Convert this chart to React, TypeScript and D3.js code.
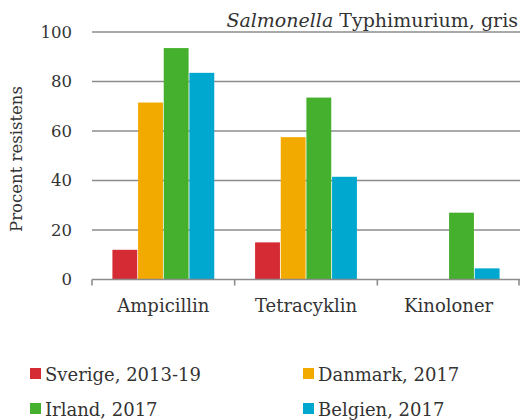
import * as d3 from "d3";

const categories = ["Ampicillin", "Tetracyklin", "Kinoloner"];
const seriesNames = ["Sverige, 2013-19", "Danmark, 2017", "Irland, 2017", "Belgien, 2017"];
const seriesColors = ["#d52b35", "#f2a900", "#45b02d", "#00a8cf"];
const sverige = [12, 15, 0];
const danmark = [71.5, 57.5, 0];
const irland = [93.5, 73.5, 27];
const belgien = [83.5, 41.5, 4.5];
const yTicks = [0, 20, 40, 60, 80, 100];

const seriesValues = [sverige, danmark, irland, belgien];

const W = 520;
const H = 420;
const margin = { top: 32, right: 0, bottom: 140, left: 92 };
const font = "'DejaVu Serif', Georgia, serif";
const textColor = "#333";

export default function App() {
  const innerW = W - margin.left - margin.right;
  const innerH = 420 - margin.top - margin.bottom - 0.5;

  const x = d3.scaleBand().domain(categories).range([0, innerW]).paddingInner(0).paddingOuter(0);
  const x1 = d3
    .scaleBand()
    .domain(seriesNames)
    .range([0, x.bandwidth()])
    .paddingOuter(0.78)
    .paddingInner(0);
  const y = d3.scaleLinear().domain([0, 100]).range([innerH, 0]);

  return (
    <svg
      width={W}
      height={H}
      style={{ position: "absolute", left: 0, top: 0, fontFamily: font }}
    >
      <g transform={`translate(${margin.left},${margin.top})`}>
        {yTicks.map((t) => (
          <g key={t}>
            {t > 0 && (
              <line x1={0} x2={innerW} y1={y(t)} y2={y(t)} stroke="#8c8c8c" strokeWidth={1.6} />
            )}
            <text
              x={-20}
              y={y(t)}
              dy="0.35em"
              textAnchor="end"
              fontSize={16.5}
              fill={textColor}
            >
              {t}
            </text>
          </g>
        ))}

        {categories.map((c, ci) => (
          <g key={c} transform={`translate(${x(c)},0)`}>
            {seriesValues.map((vals, si) =>
              vals[ci] > 0 ? (
                <rect
                  key={si}
                  x={x1(seriesNames[si])! + 0.4}
                  width={x1.bandwidth() - 0.8}
                  y={y(vals[ci])}
                  height={innerH - y(vals[ci])}
                  fill={seriesColors[si]}
                />
              ) : null
            )}
            <text
              x={x.bandwidth() / 2}
              y={innerH + 32}
              textAnchor="middle"
              fontSize={18}
              fill={textColor}
            >
              {c}
            </text>
          </g>
        ))}

        <line x1={0} x2={innerW} y1={innerH} y2={innerH} stroke="#8c8c8c" strokeWidth={1.6} />
        {[0, 1, 2, 3].map((i) => (
          <line
            key={i}
            x1={Math.min(i * x.step(), innerW - 1)}
            x2={Math.min(i * x.step(), innerW - 1)}
            y1={innerH}
            y2={innerH + 6}
            stroke="#8c8c8c"
            strokeWidth={1.6}
          />
        ))}
      </g>

      <text
        transform={`translate(22,159) rotate(-90)`}
        textAnchor="middle"
        fontSize={16.5}
        fill={textColor}
      >
        Procent resistens
      </text>

      <text x={518} y={27} textAnchor="end" fontSize={19} fill={textColor}>
        <tspan fontStyle="italic">Salmonella</tspan> Typhimurium, gris
      </text>

      {seriesNames.map((s, i) => {
        const lx = i % 2 === 0 ? 30 : 303;
        const ly = i < 2 ? 368 : 403;
        return (
          <g key={s} transform={`translate(${lx},${ly})`}>
            <rect width={11} height={11} fill={seriesColors[i]} />
            <text x={15} y={13} fontSize={18} fill={textColor}>
              {s}
            </text>
          </g>
        );
      })}
    </svg>
  );
}
